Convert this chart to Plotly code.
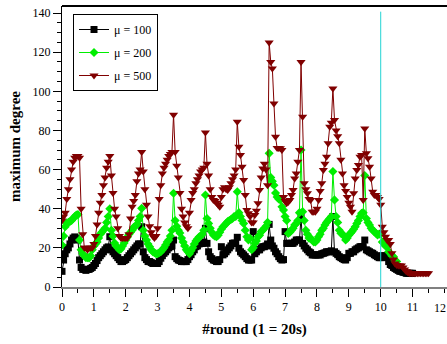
import plotly.graph_objects as go

# sampling step of the series (rounds)
STEP = 0.05

black = [
    8, 13.8, 17, 19, 20, 22, 24, 25, 25.6, 25, 24, 13.8, 10, 9, 9, 8.5, 9, 9, 9.5, 10,
    11, 12, 13.5, 15, 16, 17, 18, 19, 20, 20.5, 25.7, 19, 18, 17, 16, 15, 14, 13, 13, 13.5,
    14, 15, 16, 17, 18, 19, 20, 21, 22, 22, 30.8, 18, 15, 14, 13, 13, 12.5, 12, 12, 12,
    12, 13, 14.7, 16, 17.2, 18, 19, 20, 20.6, 21, 24, 15.5, 14.5, 13.8, 13.5, 13, 13, 13, 13, 14,
    15.5, 16.5, 18, 19, 20.6, 21, 22, 22.3, 22.3, 23, 30, 22.3, 18, 15.5, 14.5, 13.8, 13.5, 13, 13, 14,
    20.6, 16.4, 17, 18, 19, 20, 21, 22.3, 22.5, 22.3, 25.4, 19.8, 18, 17.2, 16.4, 15.5, 14.5, 13.8, 13.8, 13.8,
    28.3, 17, 18, 19, 19, 20, 20.6, 20.6, 21, 22, 32, 24, 21, 19.8, 18, 17, 15.5, 14.5, 13.8, 14,
    28.3, 22.3, 22.3, 22.3, 22.3, 22.3, 23, 24, 24, 24, 35.6, 22.3, 21, 19.8, 19, 18, 17.5, 16.4, 16.4, 16.4,
    16.4, 16.4, 16.4, 17, 17.2, 17.5, 18, 18, 18, 18.5, 36, 18, 17.2, 16.5, 15.5, 15, 14.5, 14, 13.8, 15,
    17.2, 17.2, 18, 18, 19, 19.5, 20, 20.6, 20.6, 20.6, 24, 19, 18.5, 18, 17.5, 17.2, 16.5, 16, 15.5, 15,
    15, 16, 16, 15.5, 15, 13, 11.5, 11, 10, 9.5, 9, 8.5, 8, 8, 7.5, 7.5, 7, 7, 7, 7,
    7,
]

green = [
    21.5, 26, 30.8, 32.7, 33, 33.5, 34, 35, 36, 36.8, 37, 24, 19, 17, 16, 15, 15, 14.8, 16, 19,
    21, 22, 23, 25, 27, 28, 29, 30, 33, 36, 40, 29, 26, 22.5, 21, 20, 19, 19.5, 21, 22.5,
    24, 25.5, 27, 28, 29, 30.5, 31, 32, 34, 36, 40.2, 29, 26, 24, 22, 20.6, 19, 18, 17.5, 17,
    17, 17.5, 18, 19, 20, 21.5, 23, 24, 26, 29, 47.9, 34, 31, 29, 27.6, 25, 23, 21, 19, 18,
    17, 18.5, 20, 22, 23.5, 24.5, 25.5, 26, 27, 29, 47, 35, 32.5, 30, 28, 26.6, 26, 25.7, 26.5, 28,
    29.5, 30.8, 31.5, 32.5, 33.5, 34, 34.5, 35, 36, 36, 48.7, 38, 36, 34, 32.5, 29, 25.7, 24, 24.9, 19,
    20, 22.3, 23.5, 25.7, 26.5, 28.3, 29, 30, 31, 33, 68.3, 56, 54, 52, 48, 46, 45, 44.5, 41, 39.3,
    36, 34, 27.4, 28, 29, 30, 31.7, 32.5, 34, 38, 70, 38.5, 34, 29, 27, 25, 24.9, 24, 23, 23,
    24, 25.7, 27, 29, 30, 31.7, 33, 34, 35, 36, 59, 44.5, 36, 33, 29, 27.5, 27, 26, 24, 25,
    26.5, 27.5, 28.3, 29.5, 30.8, 32.5, 34, 36, 37.7, 38, 57, 35, 33, 31.7, 30, 29, 28.3, 27.5, 26.6, 27,
    27.4, 23, 22.3, 21, 20.6, 18, 17.2, 16, 15.5, 13.5, 13,
]

red = [
    34, 36, 38, 45, 50, 55, 60, 64, 66, 67, 67, 66, 40, 27, 20, 20, 19, 20, 20, 20,
    22, 26, 32, 38, 43, 47, 52, 56, 61, 64, 67, 57, 48, 40, 36, 30, 26, 25, 25, 25,
    25, 25, 27, 35, 41, 44, 47, 54, 58, 60, 69, 59, 50, 42, 36, 31, 28, 26, 25, 26,
    30, 45, 52, 58, 61, 63, 65, 67, 68, 69, 88, 69, 62, 56, 48, 40, 36, 33, 31, 30,
    38, 44.5, 48, 50, 53, 55, 57, 59, 60, 61, 79, 63, 57, 50, 46, 44.5, 44, 43, 42, 41,
    46, 50, 51, 50, 49.6, 51, 53, 55, 57, 60, 84.5, 71.7, 67.5, 61.5, 54.7, 47, 39.3, 37.7, 36, 33,
    33, 36.8, 39, 42.8, 49.6, 56, 60.6, 63, 60, 52, 125, 115, 111.7, 93.8, 76.8, 71, 71, 70.9, 70, 46,
    44, 42.8, 43.5, 44.5, 47, 49.6, 55.5, 58, 64, 70, 115, 87, 53, 50, 47.9, 45, 44.5, 38.5, 38.5, 38.5,
    40, 44.5, 49, 53, 59.8, 63, 66.6, 73.4, 81.9, 84, 101.5, 85.3, 80, 77, 73.4, 65, 58, 52, 49, 46,
    43, 41, 38.5, 47.9, 55.5, 59.8, 62.3, 66.6, 67.5, 44.5, 81, 68.3, 65.8, 61.5, 55.5, 48.7, 47, 47, 46, 45,
    42, 30.8, 28, 25.7, 24, 24, 22, 17.2, 14, 12, 11.2, 11, 11, 11, 10, 9, 8, 7.5, 7, 7,
    7, 7, 7, 7, 7, 7, 7, 7, 7, 7, 7,
]

names = ["μ = 100", "μ = 200", "μ = 500"]
x_ticks = list(range(0, 13))
y_ticks = list(range(0, 141, 20))
marker_line_x = 10


def xs(vals):
    return [round(i * STEP, 2) for i in range(len(vals))]


SERIF = "Liberation Serif, Times New Roman, serif"
fig = go.Figure()
fig.add_trace(go.Scatter(
    x=xs(black), y=black, mode="lines+markers", name=names[0], legendgroup="a",
    line=dict(color="#000000", width=1),
    marker=dict(symbol="square", size=7, color="#000000")))
fig.add_trace(go.Scatter(
    x=xs(green), y=green, mode="lines+markers", name=names[1], legendgroup="b",
    line=dict(color="#00ee00", width=1),
    marker=dict(symbol="diamond", size=7, color="#00ee00")))
fig.add_trace(go.Scatter(
    x=xs(red), y=red, mode="lines+markers", name=names[2], legendgroup="c",
    line=dict(color="#800000", width=1),
    marker=dict(symbol="triangle-down", size=8, color="#800000")))

fig.add_shape(type="line", xref="x", yref="y", x0=marker_line_x, x1=marker_line_x,
              y0=0, y1=140.7, line=dict(color="#22d3d3", width=1), layer="above")
fig.add_shape(type="line", xref="paper", yref="paper", x0=0, x1=1, y0=1, y1=1,
              line=dict(color="#000000", width=2))

# last tick label, kept just inside the right edge of the page
fig.add_annotation(x=x_ticks[-1], y=0, xref="x", yref="paper", yshift=-21, xshift=3,
                   yanchor="middle", xanchor="right",
                   text=str(x_ticks[-1]), showarrow=False, borderpad=0,
                   font=dict(family=SERIF, size=12, color="#000000"))

fig.update_layout(
    width=447, height=344,
    margin=dict(l=62, r=0, t=6, b=57),
    paper_bgcolor="white", plot_bgcolor="white",
    font=dict(family=SERIF, size=12, color="#000000"),
    showlegend=True,
    legend=dict(x=0.0286, y=0.9715, xanchor="left", yanchor="top",
                bordercolor="#000000", borderwidth=1, bgcolor="white",
                font=dict(family=SERIF, size=12, color="#000000"),
                tracegroupgap=4),
    xaxis=dict(range=[0, 12.08], tickvals=x_ticks[:-1], ticks="outside", ticklen=8,
               tickcolor="#000000", showline=True, linecolor="#808080", linewidth=2,
               showgrid=False, zeroline=False,
               minor=dict(dtick=0.5, ticks="outside", ticklen=4, tickcolor="#000000"),
               tickfont=dict(family=SERIF, size=12, color="#000000"),
               title=dict(text="<b>#round (1 = 20s)</b>", standoff=10,
                          font=dict(family=SERIF, size=15, color="#000000"))),
    yaxis=dict(range=[0, 143.6], tickvals=y_ticks, ticks="outside", ticklen=8,
               tickcolor="#000000", showline=True, linecolor="#000000", linewidth=1,
               mirror=True, showgrid=False, zeroline=False,
               minor=dict(dtick=5, ticks="outside", ticklen=4, tickcolor="#000000"),
               tickfont=dict(family=SERIF, size=12, color="#000000"),
               title=dict(text="<b>maximum degree</b>", standoff=8,
                          font=dict(family=SERIF, size=15, color="#000000"))),
)

fig.write_html("out.html")
